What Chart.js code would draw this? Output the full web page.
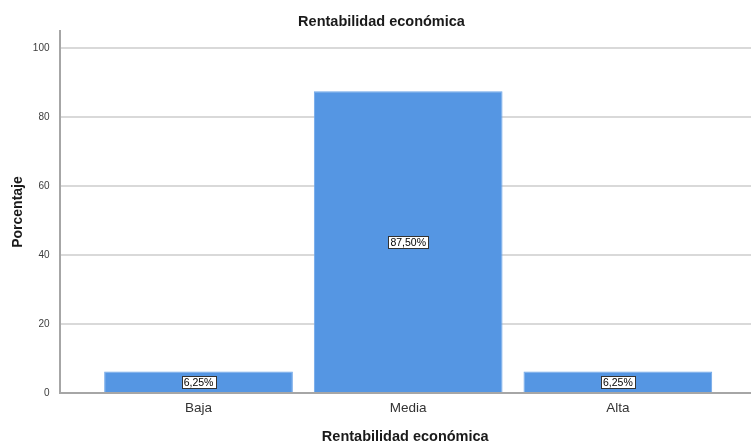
<!DOCTYPE html>
<html>
<head>
<meta charset="utf-8">
<script src="https://cdn.jsdelivr.net/npm/chart.js@4.4.1/dist/chart.umd.min.js"></script>
<style>
  html, body { margin: 0; padding: 0; background: #ffffff; }
  #wrap { width: 751px; height: 441px; position: relative; }
</style>
</head>
<body>
<div id="wrap"><canvas id="barChart"></canvas></div>
<script>
// Data
const categories = ["Baja", "Media", "Alta"];
const porcentajes = [6.25, 87.5, 6.25];
const yTicks = [0, 20, 40, 60, 80, 100];

const narrow = "'Liberation Sans Narrow', 'Liberation Sans', Arial, sans-serif";
const sans = "'Liberation Sans', Arial, sans-serif";

// Boxed value labels in the middle of each bar
const boxLabels = {
  id: 'boxLabels',
  afterDatasetsDraw(chart) {
    const ctx = chart.ctx;
    const meta = chart.getDatasetMeta(0);
    ctx.save();
    ctx.font = '10.5px ' + narrow;
    ctx.textAlign = 'center';
    ctx.textBaseline = 'middle';
    meta.data.forEach((bar, i) => {
      const txt = porcentajes[i].toFixed(2).replace('.', ',') + '%';
      const w = Math.round(ctx.measureText(txt).width + 4);
      const h = 12;
      const x0 = Math.round(bar.x - w / 2) + 0.5;
      const y0 = Math.round((bar.y + bar.base) / 2 - h / 2) + 0.5;
      ctx.fillStyle = '#ffffff';
      ctx.fillRect(x0, y0, w, h);
      ctx.strokeStyle = '#333333';
      ctx.lineWidth = 1;
      ctx.strokeRect(x0, y0, w, h);
      ctx.fillStyle = '#000000';
      ctx.fillText(txt, bar.x, y0 + h / 2 + 0.5);
    });
    ctx.restore();
  }
};

const ctx = document.getElementById('barChart').getContext('2d');
const chart = new Chart(ctx, {
  type: 'bar',
  data: {
    datasets: [{
      label: 'Porcentaje',
      data: categories.map((c, i) => ({ x: i, y: porcentajes[i] })),
      backgroundColor: '#5596e3',
      borderColor: '#6ea6e8',
      borderWidth: 1,
      barPercentage: 0.9,
      categoryPercentage: 1.0
    }]
  },
  options: {
    responsive: true,
    maintainAspectRatio: false,
    animation: false,
    layout: { padding: { left: 12, right: 0, top: 0, bottom: 0 } },
    plugins: {
      legend: { display: false },
      tooltip: { enabled: false },
      title: {
        display: true,
        text: 'Rentabilidad económica',
        color: '#1a1a1a',
        font: { family: sans, size: 14.5, weight: 'bold' },
        padding: { top: 13.6, bottom: 0 }
      }
    },
    scales: {
      x: {
        type: 'linear',
        offset: false,
        min: -0.663,
        max: 2.635,
        afterBuildTicks: (scale) => { scale.ticks = categories.map((c, i) => ({ value: i })); },
        afterFit: (scale) => { scale.height = 48; },
        ticks: {
          autoSkip: false,
          padding: 7,
          color: '#333333',
          font: { family: narrow, size: 13.5 },
          callback: (v) => categories[v]
        },
        grid: { display: false, drawTicks: false, offset: false },
        border: { display: true, color: '#a6a6a6', width: 2 },
        title: {
          display: true,
          text: 'Rentabilidad económica',
          color: '#1a1a1a',
          font: { family: sans, size: 14.5, weight: 'bold' },
          padding: { top: 0, bottom: -5 }
        }
      },
      y: {
        min: 0,
        max: 105,
        afterBuildTicks: (scale) => { scale.ticks = yTicks.map(v => ({ value: v })); },
        afterFit: (scale) => { scale.width = 47.5; },
        ticks: {
          padding: 10,
          color: '#3c3c3c',
          font: { family: narrow, size: 10 }
        },
        grid: {
          drawTicks: false,
          lineWidth: 2,
          color: (c) => (c.tick && c.tick.value === 0) ? 'rgba(0,0,0,0)' : '#d9d9d9'
        },
        border: { display: true, color: '#a6a6a6', width: 2 },
        title: {
          display: true,
          text: 'Porcentaje',
          color: '#1a1a1a',
          font: { family: sans, size: 14, weight: 'bold' },
          padding: { top: -2.5, bottom: 0 }
        }
      }
    }
  },
  plugins: [boxLabels]
});
</script>
</body>
</html>
